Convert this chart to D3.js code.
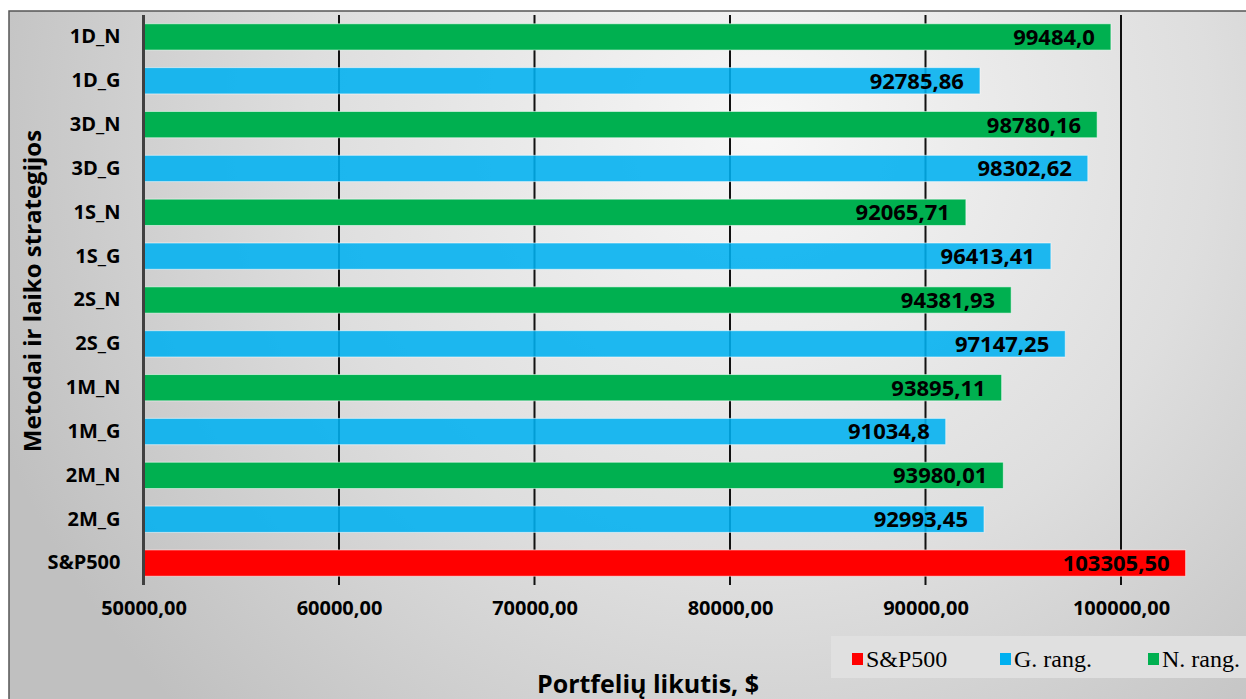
<!DOCTYPE html>
<html>
<head>
<meta charset="utf-8">
<script src="https://cdn.jsdelivr.net/npm/d3@7"></script>
<style>
  html, body { margin: 0; padding: 0; background: #ffffff; }
  svg { display: block; }
</style>
</head>
<body>
<svg id="chart" width="1246" height="699"></svg>
<script>
// Strategy names, top to bottom
const categories = ["1D_N", "1D_G", "3D_N", "3D_G", "1S_N", "1S_G", "2S_N", "2S_G", "1M_N", "1M_G", "2M_N", "2M_G", "S&P500"];
// Final portfolio balance, $
const values = [99484.0, 92785.86, 98780.16, 98302.62, 92065.71, 96413.41, 94381.93, 97147.25, 93895.11, 91034.8, 93980.01, 92993.45, 103305.50];
// Value labels as printed on the bars
const valueLabels = ["99484,0", "92785,86", "98780,16", "98302,62", "92065,71", "96413,41", "94381,93", "97147,25", "93895,11", "91034,8", "93980,01", "92993,45", "103305,50"];
// Series each bar belongs to
const seriesOf = ["N", "G", "N", "G", "N", "G", "N", "G", "N", "G", "N", "G", "S"];
// Legend entries
const legendKeys = ["S", "G", "N"];
const legendNames = ["S&P500", "G. rang.", "N. rang."];
// Axis ticks
const tickValues = [50000, 60000, 70000, 80000, 90000, 100000];

const colors = { S: "#ff0000", G: "#00b0f0", N: "#00b050" };
const fmt = v => d3.format(".2f")(v).replace(".", ",");

const svg = d3.select("#chart");

// Chart-area background
const defs = svg.append("defs");
const grad = defs.append("radialGradient")
  .attr("id", "bg").attr("gradientUnits", "userSpaceOnUse")
  .attr("cx", 760).attr("cy", 130).attr("r", 820);
grad.append("stop").attr("offset", "0").attr("stop-color", "#f7f7f7");
grad.append("stop").attr("offset", "0.55").attr("stop-color", "#dedede");
grad.append("stop").attr("offset", "1").attr("stop-color", "#c0c0c0");

svg.append("rect")
  .attr("x", 9).attr("y", 11).attr("width", 1250).attr("height", 700)
  .attr("fill", "url(#bg)")
  .attr("stroke", "#555555").attr("stroke-width", 1.5);

const x = d3.scaleLinear().domain([50000, 100000]).range([143.5, 1121]);
const y = d3.scaleBand().domain(categories).range([15, 585])
  .paddingInner(0.4).paddingOuter(0.2);

// Vertical gridlines behind the bars
svg.append("g")
  .selectAll("line")
  .data(tickValues.slice(1))
  .join("line")
  .attr("x1", d => x(d)).attr("x2", d => x(d))
  .attr("y1", 15).attr("y2", 585)
  .attr("stroke", "#111111").attr("stroke-width", 2);

// Bars
svg.append("g")
  .selectAll("rect")
  .data(categories)
  .join("rect")
  .attr("x", x(50000))
  .attr("y", d => y(d))
  .attr("width", (d, i) => x(values[i]) - x(50000))
  .attr("height", y.bandwidth())
  .attr("fill", (d, i) => colors[seriesOf[i]])
  .attr("fill-opacity", (d, i) => seriesOf[i] === "G" ? 0.88 : 1)
  .attr("stroke", "rgba(255,255,255,0.55)")
  .attr("stroke-width", 1);

// Value labels inside the bar ends
svg.append("g")
  .selectAll("text")
  .data(categories)
  .join("text")
  .attr("x", (d, i) => x(values[i]) - 16)
  .attr("y", d => y(d) + y.bandwidth() / 2)
  .attr("dy", "0.36em")
  .attr("text-anchor", "end")
  .style("font-family", "'Open Sans', sans-serif")
  .style("font-weight", 700)
  .style("font-size", "22px")
  .attr("fill", "#000000")
  .text((d, i) => valueLabels[i]);

// Category axis
const yAxis = svg.append("g")
  .attr("transform", `translate(${x(50000)},0)`)
  .call(d3.axisLeft(y).tickSize(0).tickPadding(23));
yAxis.select(".domain").attr("stroke", "#404040").attr("stroke-width", 3)
  .attr("d", "M0,15V585");
yAxis.selectAll("text")
  .style("font-family", "'Open Sans', sans-serif")
  .style("font-weight", 700)
  .style("font-size", "20px")
  .attr("fill", "#000000");

// Value axis labels
const xAxis = svg.append("g")
  .attr("transform", "translate(0,585)")
  .call(d3.axisBottom(x).tickValues(tickValues).tickFormat(fmt).tickSize(0).tickPadding(16));
xAxis.select(".domain").remove();
xAxis.selectAll("text")
  .style("font-family", "'Open Sans', sans-serif")
  .style("font-weight", 700)
  .style("font-size", "20px")
  .attr("fill", "#000000");

// Axis titles
svg.append("text")
  .attr("transform", "translate(41,291) rotate(-90)")
  .attr("text-anchor", "middle")
  .style("font-family", "'Open Sans', sans-serif")
  .style("font-weight", 700)
  .style("font-size", "24px")
  .attr("fill", "#000000")
  .text("Metodai ir laiko strategijos");

svg.append("text")
  .attr("x", 648).attr("y", 693)
  .attr("text-anchor", "middle")
  .style("font-family", "'Open Sans', sans-serif")
  .style("font-weight", 700)
  .style("font-size", "25px")
  .attr("fill", "#000000")
  .text("Portfelių likutis, $");

// Legend
const legend = svg.append("g");
legend.append("rect")
  .attr("x", 831).attr("y", 636).attr("width", 420).attr("height", 42)
  .attr("fill", "#e0e0e0");
const legendX = [852, 1000, 1148];
const items = legend.selectAll("g.item")
  .data(legendKeys)
  .join("g")
  .attr("class", "item")
  .attr("transform", (d, i) => `translate(${legendX[i]},0)`);
items.append("rect")
  .attr("x", 0).attr("y", 653).attr("width", 11).attr("height", 12)
  .attr("fill", d => colors[d]);
items.append("text")
  .attr("x", 14).attr("y", 667)
  .style("font-family", "'Liberation Serif', 'Times New Roman', serif")
  .style("font-size", "24px")
  .attr("fill", "#000000")
  .text((d, i) => legendNames[i]);
</script>
</body>
</html>
